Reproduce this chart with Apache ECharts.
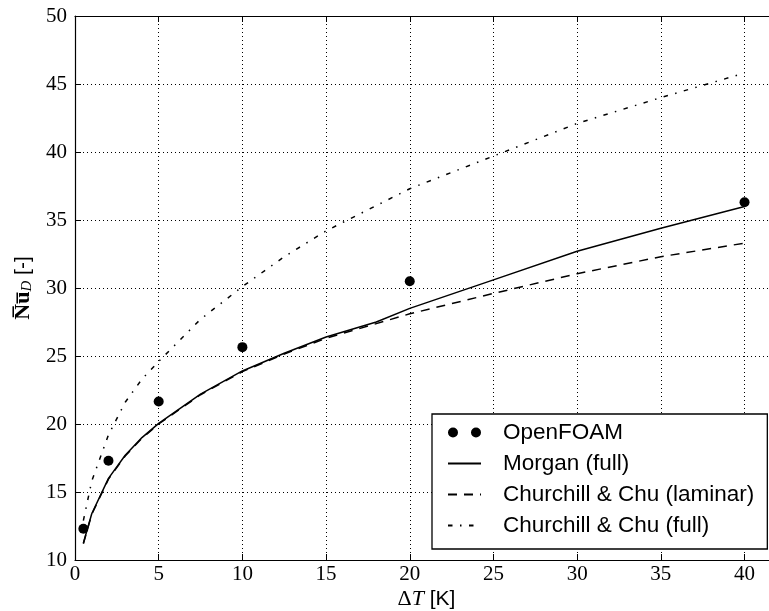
<!DOCTYPE html>
<html>
<head>
<meta charset="utf-8">
<script src="https://cdn.jsdelivr.net/npm/echarts@6/dist/echarts.min.js"></script>
<style>
html,body{margin:0;padding:0;background:#fff;}
#chart{width:769px;height:611px;}
</style>
</head>
<body>
<div id="chart"></div>
<script>
// ---- data ----
const openfoamX = [0.5, 2, 5, 10, 20, 40];
const openfoamY = [12.3, 17.3, 21.65, 25.65, 30.5, 36.3];

const morganX = [0.5, 1, 2, 3, 4, 5, 7.5, 10, 12.5, 15, 18, 20, 25, 30, 35, 40];
const morganY = [11.25, 13.4, 16.0, 17.7, 19.0, 20.05, 22.2, 23.9, 25.2, 26.4, 27.5, 28.5, 30.6, 32.7, 34.4, 36.0];

const ccLamX = [0.5, 1, 2, 3, 4, 5, 7.5, 10, 12.5, 15, 20, 25, 30, 35, 40];
const ccLamY = [11.2, 13.35, 15.95, 17.65, 18.95, 20.0, 22.15, 23.85, 25.15, 26.3, 28.1, 29.6, 31.05, 32.3, 33.3];

const ccFullX = [0.5, 1, 2, 3, 4, 5, 7.5, 10, 12.5, 15, 20, 25, 30, 35, 40];
const ccFullY = [12.9, 15.8, 19.2, 21.6, 23.3, 24.6, 27.7, 30.1, 32.3, 34.2, 37.3, 39.7, 42.1, 44.0, 45.8];

const xTicks = [0, 5, 10, 15, 20, 25, 30, 35, 40];
const yTicks = [10, 15, 20, 25, 30, 35, 40, 45, 50];

const seriesNames = ['OpenFOAM', 'Morgan (full)', 'Churchill & Chu (laminar)', 'Churchill & Chu (full)'];

const pair = (xs, ys) => xs.map((x, i) => [x, ys[i]]);

const serif = '"Liberation Serif", "DejaVu Serif", serif';
const sans = '"Liberation Sans", Arial, sans-serif';

const chart = echarts.init(document.getElementById('chart'), null, {renderer: 'canvas'});

const axisCommon = {
  type: 'value',
  axisLine: {show: true, onZero: false, lineStyle: {color: '#000', width: 1.2}},
  axisTick: {show: true, inside: true, length: 6, lineStyle: {color: '#000', width: 1}},
  splitLine: {show: true, lineStyle: {color: '#000', width: 1, type: [1, 3]}},
  axisLabel: {color: '#000', fontFamily: serif, fontSize: 21}
};

const hiddenSymbol = {opacity: 0, color: 'rgba(0,0,0,0)', borderWidth: 0};

chart.setOption({
  backgroundColor: '#fff',
  animation: false,
  grid: {left: 75, right: -9, top: 16, bottom: 51, containLabel: false, outerBoundsMode: 'none'},
  xAxis: [
    Object.assign({}, axisCommon, {
      min: 0, max: 42, interval: 5, position: 'bottom',
      axisLabel: Object.assign({}, axisCommon.axisLabel, {
        margin: 4,
        formatter: v => (xTicks.indexOf(v) >= 0 ? String(v) : '')
      }),
      name: '{d|Δ}{t|T}{k| [K]}',
      nameLocation: 'middle',
      nameGap: 28,
      nameMoveOverlap: false,
      nameTextStyle: {
        rich: {
          d: {fontFamily: serif, fontSize: 22, color: '#000'},
          t: {fontFamily: serif, fontSize: 22, fontStyle: 'italic', color: '#000'},
          k: {fontFamily: sans, fontSize: 21, color: '#000'}
        }
      }
    }),
    Object.assign({}, axisCommon, {
      min: 0, max: 42, interval: 5, position: 'top',
      axisLabel: {show: false},
      splitLine: {show: false}
    })
  ],
  yAxis: [
    Object.assign({}, axisCommon, {
      min: 10, max: 50, interval: 5,
      axisLabel: Object.assign({}, axisCommon.axisLabel, {
        margin: 8,
        formatter: v => (yTicks.indexOf(v) >= 0 ? String(v) : '')
      }),
      name: '{b|N\u0305u\u0305}{s|D}{n| [-]}',
      nameLocation: 'middle',
      nameGap: 40,
      nameMoveOverlap: false,
      nameTextStyle: {
        rich: {
          b: {fontFamily: serif, fontSize: 22, fontWeight: 'bold', color: '#000'},
          s: {fontFamily: serif, fontSize: 15, fontStyle: 'italic', color: '#000', verticalAlign: 'bottom', padding: [8, 0, 0, 0]},
          n: {fontFamily: sans, fontSize: 21, color: '#000'}
        }
      }
    })
  ],
  legend: {
    orient: 'vertical',
    left: 432,
    top: 414,
    data: [
      {name: seriesNames[0], icon: 'path://M0,5a5,5 0 1,0 10,0a5,5 0 1,0 -10,0ZM23,5a5,5 0 1,0 10,0a5,5 0 1,0 -10,0Z', itemStyle: {color: '#000', opacity: 1}},
      {name: seriesNames[1], itemStyle: hiddenSymbol},
      {name: seriesNames[2], itemStyle: hiddenSymbol},
      {name: seriesNames[3], itemStyle: hiddenSymbol}
    ],
    itemWidth: 33,
    itemHeight: 10,
    itemGap: 8,
    padding: [7, 13, 12, 15],
    backgroundColor: '#fff',
    borderColor: '#000',
    borderWidth: 1.3,
    borderRadius: 0,
    textStyle: {fontFamily: sans, fontSize: 22.5, lineHeight: 22, color: '#000', padding: [0, 0, 0, 17]}
  },
  series: [
    {
      name: seriesNames[0], type: 'scatter', data: pair(openfoamX, openfoamY),
      symbol: 'circle', symbolSize: 10, itemStyle: {color: '#000', opacity: 1}, z: 5
    },
    {
      name: seriesNames[1], type: 'line', data: pair(morganX, morganY),
      symbol: 'none', smooth: false, lineStyle: {color: '#000', width: 1.5, type: 'solid'}, itemStyle: {color: '#000'}
    },
    {
      name: seriesNames[2], type: 'line', data: pair(ccLamX, ccLamY),
      symbol: 'none', smooth: false, lineStyle: {color: '#000', width: 1.5, type: [9, 7]}, itemStyle: {color: '#000'}
    },
    {
      name: seriesNames[3], type: 'line', data: pair(ccFullX, ccFullY),
      symbol: 'none', smooth: false, lineStyle: {color: '#000', width: 1.5, type: [4.5, 7.5, 1.5, 7.5]}, itemStyle: {color: '#000'}
    }
  ]
});
</script>
</body>
</html>
